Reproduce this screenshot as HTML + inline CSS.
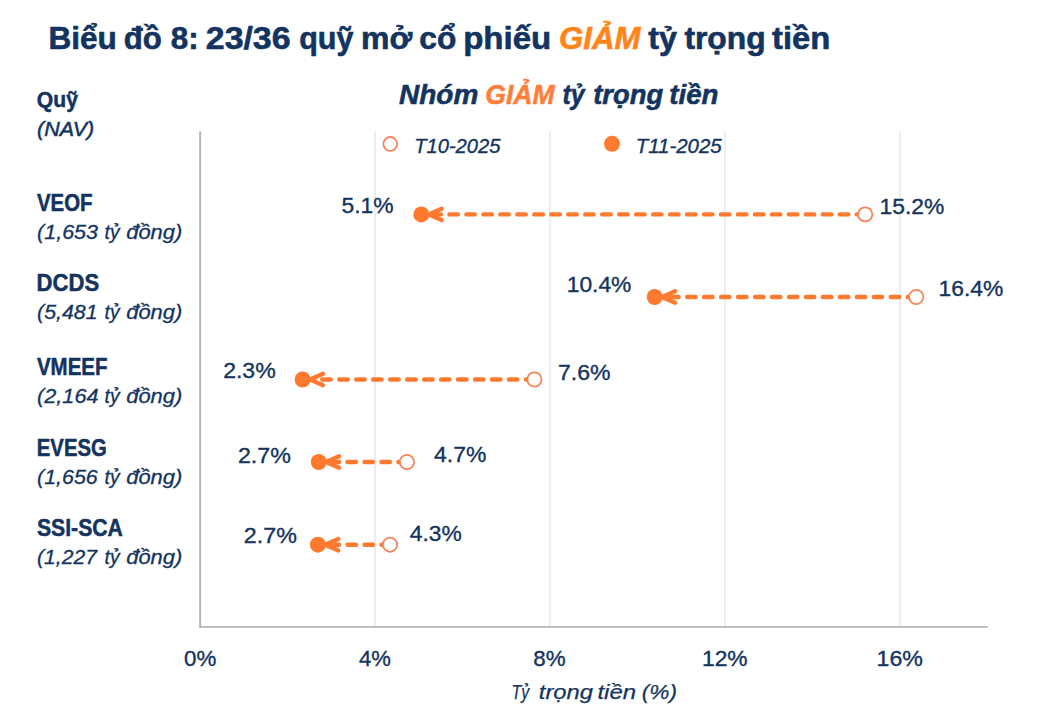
<!DOCTYPE html>
<html lang="vi">
<head>
<meta charset="utf-8">
<title>Biểu đồ 8: 23/36 quỹ mở cổ phiếu GIẢM tỷ trọng tiền</title>
<style>
html,body{margin:0;padding:0;background:#ffffff;}
body{width:1058px;height:716px;overflow:hidden;font-family:"Liberation Sans",sans-serif;}
svg{display:block;}
svg text{font-family:"Liberation Sans",sans-serif;}
</style>
</head>
<body>
<svg width="1058" height="716" viewBox="0 0 1058 716">
<rect x="0" y="0" width="1058" height="716" fill="#ffffff"/>

<g fill="none">
<line x1="375.1" y1="131.6" x2="375.1" y2="626.9" stroke="#e7e7e7" stroke-width="1.4"/>
<line x1="549.9" y1="131.6" x2="549.9" y2="626.9" stroke="#e7e7e7" stroke-width="1.4"/>
<line x1="725.0" y1="131.6" x2="725.0" y2="626.9" stroke="#e7e7e7" stroke-width="1.4"/>
<line x1="900.0" y1="131.6" x2="900.0" y2="626.9" stroke="#e7e7e7" stroke-width="1.4"/>
<line x1="200.15" y1="131.6" x2="200.15" y2="627.75" stroke="#b6b6b6" stroke-width="2.0"/>
<line x1="199.15" y1="626.9" x2="987.6" y2="626.9" stroke="#b6b6b6" stroke-width="1.7"/>
</g>
<circle cx="390.3" cy="143.9" r="6.9" fill="#ffffff" stroke="#f5855a" stroke-width="1.8"/>
<circle cx="612.0" cy="143.8" r="8.0" fill="#ff7a2f"/>
<g fill="none" stroke="#ff7a2f" stroke-width="4.4" stroke-linecap="round" stroke-linejoin="round">
<path d="M865.2 214.4 L429.7 214.4" stroke-dasharray="8.5 8.47"/>
<path d="M441.7 208.7 L428.7 214.4 L441.7 220.1"/>
<path d="M916.2 297.0 L663.1 297.0" stroke-dasharray="8.5 8.47"/>
<path d="M675.1 291.3 L662.1 297.0 L675.1 302.7"/>
<path d="M534.4 379.5 L311.0 379.5" stroke-dasharray="8.5 8.47"/>
<path d="M323.0 373.8 L310.0 379.5 L323.0 385.2"/>
<path d="M406.9 462.0 L327.1 462.0" stroke-dasharray="8.5 8.47"/>
<path d="M339.1 456.3 L326.1 462.0 L339.1 467.7"/>
<path d="M390.0 544.7 L326.3 544.7" stroke-dasharray="8.5 8.47"/>
<path d="M338.3 539.0 L325.3 544.7 L338.3 550.4"/>
</g>
<circle cx="421.3" cy="214.4" r="8.0" fill="#ff7a2f"/>
<circle cx="865.2" cy="214.4" r="7.1" fill="#ffffff" stroke="#f5855a" stroke-width="1.8"/>
<circle cx="654.7" cy="297.0" r="8.0" fill="#ff7a2f"/>
<circle cx="916.2" cy="297.0" r="7.1" fill="#ffffff" stroke="#f5855a" stroke-width="1.8"/>
<circle cx="302.6" cy="379.5" r="8.0" fill="#ff7a2f"/>
<circle cx="534.4" cy="379.5" r="7.1" fill="#ffffff" stroke="#f5855a" stroke-width="1.8"/>
<circle cx="318.7" cy="462.0" r="8.0" fill="#ff7a2f"/>
<circle cx="406.9" cy="462.0" r="7.1" fill="#ffffff" stroke="#f5855a" stroke-width="1.8"/>
<circle cx="317.9" cy="544.7" r="8.0" fill="#ff7a2f"/>
<circle cx="390.0" cy="544.7" r="7.1" fill="#ffffff" stroke="#f5855a" stroke-width="1.8"/>
<text x="48.45" y="48.6" font-size="31.54" font-weight="bold" font-style="normal" fill="#133360" stroke="#133360" stroke-width="0.6" textLength="68.34" lengthAdjust="spacingAndGlyphs">Biểu</text>
<text x="123.8" y="48.6" font-size="31.54" font-weight="bold" font-style="normal" fill="#133360" stroke="#133360" stroke-width="0.6" textLength="38.05" lengthAdjust="spacingAndGlyphs">đồ</text>
<text x="170.7" y="48.6" font-size="31.54" font-weight="bold" font-style="normal" fill="#133360" stroke="#133360" stroke-width="0.6" textLength="27.92" lengthAdjust="spacingAndGlyphs">8:</text>
<text x="205.8" y="48.6" font-size="31.54" font-weight="bold" font-style="normal" fill="#133360" stroke="#133360" stroke-width="0.6" textLength="84.74" lengthAdjust="spacingAndGlyphs">23/36</text>
<text x="299.15" y="48.6" font-size="31.54" font-weight="bold" font-style="normal" fill="#133360" stroke="#133360" stroke-width="0.6" textLength="54.21" lengthAdjust="spacingAndGlyphs">quỹ</text>
<text x="360.95" y="48.6" font-size="31.54" font-weight="bold" font-style="normal" fill="#133360" stroke="#133360" stroke-width="0.6" textLength="51.2" lengthAdjust="spacingAndGlyphs">mở</text>
<text x="419.3" y="48.6" font-size="31.54" font-weight="bold" font-style="normal" fill="#133360" stroke="#133360" stroke-width="0.6" textLength="36.99" lengthAdjust="spacingAndGlyphs">cổ</text>
<text x="463.15" y="48.6" font-size="31.54" font-weight="bold" font-style="normal" fill="#133360" stroke="#133360" stroke-width="0.6" textLength="88.07" lengthAdjust="spacingAndGlyphs">phiếu</text>
<text x="559.05" y="48.6" font-size="31.54" font-weight="bold" font-style="italic" fill="#ff851b" stroke="#ff851b" stroke-width="0.6" textLength="81.4" lengthAdjust="spacingAndGlyphs">GIẢM</text>
<text x="648.35" y="48.6" font-size="31.54" font-weight="bold" font-style="normal" fill="#133360" stroke="#133360" stroke-width="0.6" textLength="28.7" lengthAdjust="spacingAndGlyphs">tỷ</text>
<text x="684.4" y="48.6" font-size="31.54" font-weight="bold" font-style="normal" fill="#133360" stroke="#133360" stroke-width="0.6" textLength="81.25" lengthAdjust="spacingAndGlyphs">trọng</text>
<text x="772.0" y="48.6" font-size="31.54" font-weight="bold" font-style="normal" fill="#133360" stroke="#133360" stroke-width="0.6" textLength="58.2" lengthAdjust="spacingAndGlyphs">tiền</text>
<text x="399.05" y="103.55" font-size="27.47" font-weight="bold" font-style="italic" fill="#133360" stroke="#133360" stroke-width="0.55" textLength="79.31" lengthAdjust="spacingAndGlyphs">Nhóm</text>
<text x="485.35" y="103.55" font-size="27.47" font-weight="bold" font-style="italic" fill="#ff7f3a" stroke="#ff7f3a" stroke-width="0.55" textLength="69.2" lengthAdjust="spacingAndGlyphs">GIẢM</text>
<text x="562.45" y="103.55" font-size="27.47" font-weight="bold" font-style="italic" fill="#133360" stroke="#133360" stroke-width="0.55" textLength="22.07" lengthAdjust="spacingAndGlyphs">tỷ</text>
<text x="593.25" y="103.55" font-size="27.47" font-weight="bold" font-style="italic" fill="#133360" stroke="#133360" stroke-width="0.55" textLength="69.91" lengthAdjust="spacingAndGlyphs">trọng</text>
<text x="669.3" y="103.55" font-size="27.47" font-weight="bold" font-style="italic" fill="#133360" stroke="#133360" stroke-width="0.55" textLength="49.16" lengthAdjust="spacingAndGlyphs">tiền</text>
<text x="36.85" y="107.4" font-size="22.97" font-weight="bold" font-style="normal" fill="#133360" stroke="#133360" stroke-width="0.5" textLength="41.06" lengthAdjust="spacingAndGlyphs">Quỹ</text>
<text x="37.05" y="135.6" font-size="20.78" font-weight="normal" font-style="italic" fill="#133360" stroke="#133360" stroke-width="0.5" textLength="57.16" lengthAdjust="spacingAndGlyphs">(NAV)</text>
<text x="414.2" y="152.7" font-size="20.49" font-weight="normal" font-style="italic" fill="#133360" stroke="#133360" stroke-width="0.35" textLength="86.27" lengthAdjust="spacingAndGlyphs">T10-2025</text>
<text x="635.7" y="152.7" font-size="20.49" font-weight="normal" font-style="italic" fill="#133360" stroke="#133360" stroke-width="0.35" textLength="86.07" lengthAdjust="spacingAndGlyphs">T11-2025</text>
<text x="36.95" y="210.9" font-size="23.69" font-weight="bold" font-style="normal" fill="#133360" stroke="#133360" stroke-width="0.5" textLength="55.55" lengthAdjust="spacingAndGlyphs">VEOF</text>
<text x="36.6" y="291.0" font-size="23.69" font-weight="bold" font-style="normal" fill="#133360" stroke="#133360" stroke-width="0.5" textLength="62.56" lengthAdjust="spacingAndGlyphs">DCDS</text>
<text x="36.95" y="374.7" font-size="23.69" font-weight="bold" font-style="normal" fill="#133360" stroke="#133360" stroke-width="0.5" textLength="70.5" lengthAdjust="spacingAndGlyphs">VMEEF</text>
<text x="36.85" y="455.8" font-size="23.69" font-weight="bold" font-style="normal" fill="#133360" stroke="#133360" stroke-width="0.5" textLength="69.87" lengthAdjust="spacingAndGlyphs">EVESG</text>
<text x="36.95" y="535.7" font-size="23.84" font-weight="bold" font-style="normal" fill="#133360" stroke="#133360" stroke-width="0.5" textLength="85.96" lengthAdjust="spacingAndGlyphs">SSI-SCA</text>
<text x="37.1" y="238.7" font-size="19.57" font-weight="normal" font-style="italic" fill="#133360" stroke="#133360" stroke-width="0.3" textLength="60.86" lengthAdjust="spacingAndGlyphs">(1,653</text>
<text x="104.55" y="238.7" font-size="19.57" font-weight="normal" font-style="italic" fill="#133360" stroke="#133360" stroke-width="0.3" textLength="15.02" lengthAdjust="spacingAndGlyphs">tỷ</text>
<text x="126.2" y="238.7" font-size="19.57" font-weight="normal" font-style="italic" fill="#133360" stroke="#133360" stroke-width="0.3" textLength="56.15" lengthAdjust="spacingAndGlyphs">đồng)</text>
<text x="37.1" y="318.8" font-size="19.57" font-weight="normal" font-style="italic" fill="#133360" stroke="#133360" stroke-width="0.3" textLength="60.46" lengthAdjust="spacingAndGlyphs">(5,481</text>
<text x="104.55" y="318.8" font-size="19.57" font-weight="normal" font-style="italic" fill="#133360" stroke="#133360" stroke-width="0.3" textLength="15.02" lengthAdjust="spacingAndGlyphs">tỷ</text>
<text x="126.2" y="318.8" font-size="19.57" font-weight="normal" font-style="italic" fill="#133360" stroke="#133360" stroke-width="0.3" textLength="56.15" lengthAdjust="spacingAndGlyphs">đồng)</text>
<text x="37.1" y="403.2" font-size="19.57" font-weight="normal" font-style="italic" fill="#133360" stroke="#133360" stroke-width="0.3" textLength="61.39" lengthAdjust="spacingAndGlyphs">(2,164</text>
<text x="104.55" y="403.2" font-size="19.57" font-weight="normal" font-style="italic" fill="#133360" stroke="#133360" stroke-width="0.3" textLength="15.02" lengthAdjust="spacingAndGlyphs">tỷ</text>
<text x="126.2" y="403.2" font-size="19.57" font-weight="normal" font-style="italic" fill="#133360" stroke="#133360" stroke-width="0.3" textLength="56.15" lengthAdjust="spacingAndGlyphs">đồng)</text>
<text x="37.1" y="484.2" font-size="19.57" font-weight="normal" font-style="italic" fill="#133360" stroke="#133360" stroke-width="0.3" textLength="60.61" lengthAdjust="spacingAndGlyphs">(1,656</text>
<text x="104.55" y="484.2" font-size="19.57" font-weight="normal" font-style="italic" fill="#133360" stroke="#133360" stroke-width="0.3" textLength="15.02" lengthAdjust="spacingAndGlyphs">tỷ</text>
<text x="126.2" y="484.2" font-size="19.57" font-weight="normal" font-style="italic" fill="#133360" stroke="#133360" stroke-width="0.3" textLength="56.15" lengthAdjust="spacingAndGlyphs">đồng)</text>
<text x="37.1" y="564.2" font-size="19.57" font-weight="normal" font-style="italic" fill="#133360" stroke="#133360" stroke-width="0.3" textLength="59.85" lengthAdjust="spacingAndGlyphs">(1,227</text>
<text x="104.55" y="564.2" font-size="19.57" font-weight="normal" font-style="italic" fill="#133360" stroke="#133360" stroke-width="0.3" textLength="15.02" lengthAdjust="spacingAndGlyphs">tỷ</text>
<text x="126.2" y="564.2" font-size="19.57" font-weight="normal" font-style="italic" fill="#133360" stroke="#133360" stroke-width="0.3" textLength="56.15" lengthAdjust="spacingAndGlyphs">đồng)</text>
<text x="341.55" y="212.8" font-size="21.86" font-weight="normal" font-style="normal" fill="#133360" stroke="#133360" stroke-width="0.35" textLength="52.09" lengthAdjust="spacingAndGlyphs">5.1%</text>
<text x="879.5" y="213.6" font-size="21.71" font-weight="normal" font-style="normal" fill="#133360" stroke="#133360" stroke-width="0.35" textLength="64.72" lengthAdjust="spacingAndGlyphs">15.2%</text>
<text x="566.7" y="292.4" font-size="21.71" font-weight="normal" font-style="normal" fill="#133360" stroke="#133360" stroke-width="0.35" textLength="64.72" lengthAdjust="spacingAndGlyphs">10.4%</text>
<text x="938.5" y="295.7" font-size="21.71" font-weight="normal" font-style="normal" fill="#133360" stroke="#133360" stroke-width="0.35" textLength="64.72" lengthAdjust="spacingAndGlyphs">16.4%</text>
<text x="223.15" y="377.6" font-size="21.71" font-weight="normal" font-style="normal" fill="#133360" stroke="#133360" stroke-width="0.35" textLength="52.55" lengthAdjust="spacingAndGlyphs">2.3%</text>
<text x="558.0" y="380.4" font-size="21.71" font-weight="normal" font-style="normal" fill="#133360" stroke="#133360" stroke-width="0.35" textLength="52.5" lengthAdjust="spacingAndGlyphs">7.6%</text>
<text x="237.95" y="462.6" font-size="21.71" font-weight="normal" font-style="normal" fill="#133360" stroke="#133360" stroke-width="0.35" textLength="52.9" lengthAdjust="spacingAndGlyphs">2.7%</text>
<text x="434.1" y="461.6" font-size="21.71" font-weight="normal" font-style="normal" fill="#133360" stroke="#133360" stroke-width="0.35" textLength="52.17" lengthAdjust="spacingAndGlyphs">4.7%</text>
<text x="243.85" y="543.0" font-size="21.71" font-weight="normal" font-style="normal" fill="#133360" stroke="#133360" stroke-width="0.35" textLength="53.0" lengthAdjust="spacingAndGlyphs">2.7%</text>
<text x="409.75" y="540.7" font-size="21.71" font-weight="normal" font-style="normal" fill="#133360" stroke="#133360" stroke-width="0.35" textLength="51.91" lengthAdjust="spacingAndGlyphs">4.3%</text>
<text x="184.05" y="665.7" font-size="21.43" font-weight="normal" font-style="normal" fill="#133360" stroke="#133360" stroke-width="0.35" textLength="32.3" lengthAdjust="spacingAndGlyphs">0%</text>
<text x="359.1" y="665.7" font-size="21.43" font-weight="normal" font-style="normal" fill="#133360" stroke="#133360" stroke-width="0.35" textLength="31.88" lengthAdjust="spacingAndGlyphs">4%</text>
<text x="533.25" y="665.7" font-size="21.43" font-weight="normal" font-style="normal" fill="#133360" stroke="#133360" stroke-width="0.35" textLength="32.3" lengthAdjust="spacingAndGlyphs">8%</text>
<text x="702.0" y="665.7" font-size="21.43" font-weight="normal" font-style="normal" fill="#133360" stroke="#133360" stroke-width="0.35" textLength="45.6" lengthAdjust="spacingAndGlyphs">12%</text>
<text x="876.55" y="665.7" font-size="21.43" font-weight="normal" font-style="normal" fill="#133360" stroke="#133360" stroke-width="0.35" textLength="46.37" lengthAdjust="spacingAndGlyphs">16%</text>
<text x="511.6" y="699.3" font-size="20.64" font-weight="normal" font-style="italic" fill="#133360" stroke="#133360" stroke-width="0.25" textLength="17.72" lengthAdjust="spacingAndGlyphs">Tỷ</text>
<text x="538.8" y="699.3" font-size="20.64" font-weight="normal" font-style="italic" fill="#133360" stroke="#133360" stroke-width="0.25" textLength="54.21" lengthAdjust="spacingAndGlyphs">trọng</text>
<text x="597.45" y="699.3" font-size="20.64" font-weight="normal" font-style="italic" fill="#133360" stroke="#133360" stroke-width="0.25" textLength="38.69" lengthAdjust="spacingAndGlyphs">tiền</text>
<text x="641.8" y="699.3" font-size="20.64" font-weight="normal" font-style="italic" fill="#133360" stroke="#133360" stroke-width="0.25" textLength="35.27" lengthAdjust="spacingAndGlyphs">(%)</text>
</svg>
</body>
</html>
